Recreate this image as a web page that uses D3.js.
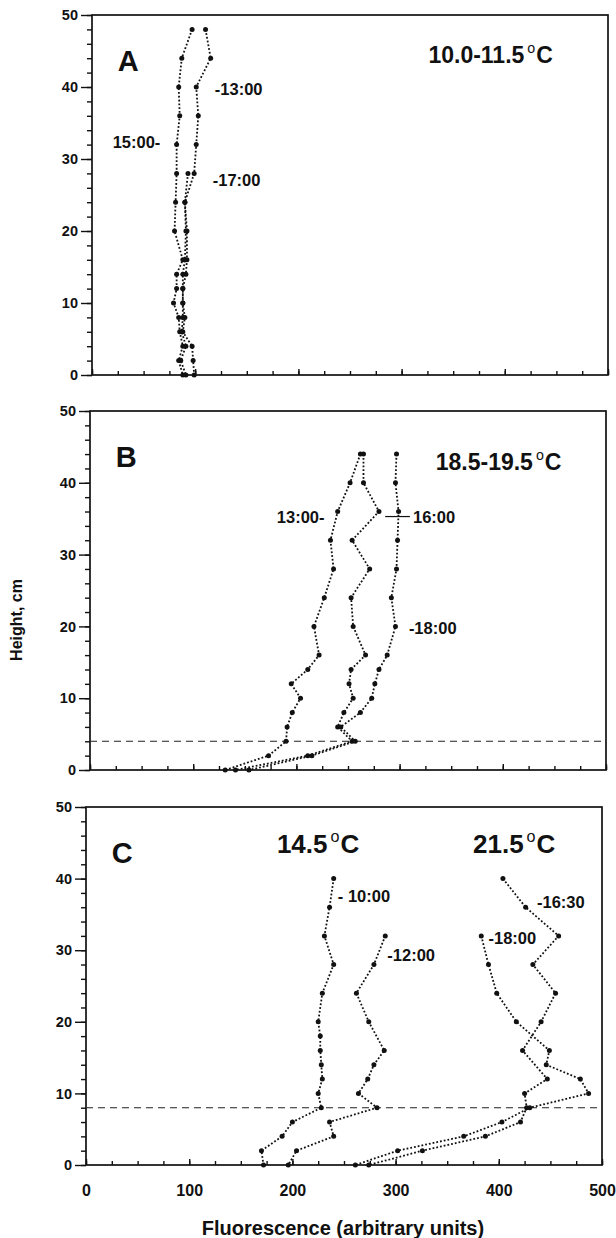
<!DOCTYPE html>
<html>
<head>
<meta charset="utf-8">
<script src="https://d3js.org/d3.v7.min.js"></script>
<style>
  body { margin: 0; background: #fff; }
  svg text { font-family: "Liberation Sans", Arial, sans-serif; fill: #111; }
</style>
</head>
<body>
<div class="chart"></div>
<script>
// ---- data (height in cm, fluorescence in arbitrary units)
const xTicks = [0, 100, 200, 300, 400, 500];
const yTicks = [0, 10, 20, 30, 40, 50];

// panel A, 10.0-11.5 C
const a1300_h = [48, 44, 40, 36, 32, 28, 24, 20, 16, 14, 12, 10, 8, 6, 4, 2, 0];
const a1300_v = [110, 115, 101, 103, 101, 99, 90, 92, 92, 91, 88, 88, 90, 88, 97, 98, 99];
const a1500_h = [48, 44, 40, 36, 32, 28, 24, 20, 16, 14, 12, 10, 8, 6, 4, 2, 0];
const a1500_v = [97, 87, 84, 85, 82, 82, 81, 80, 88, 82, 82, 79, 84, 85, 88, 84, 88];
const a1700_h = [28, 24, 20, 16, 14, 12, 10, 8, 6, 4, 2, 0];
const a1700_v = [93, 90, 91, 90, 88, 88, 88, 88, 87, 91, 86, 91];

// panel B, 18.5-19.5 C
const b1300_h = [44, 40, 36, 32, 28, 24, 20, 16, 14, 12, 10, 8, 6, 4, 2, 0];
const b1300_v = [262, 252, 240, 233, 236, 227, 217, 222, 211, 195, 204, 196, 191, 190, 173, 131];
const b1600_h = [44, 40, 36, 32, 28, 24, 20, 16, 14, 12, 10, 8, 6, 4, 2, 0];
const b1600_v = [265, 265, 280, 254, 271, 253, 255, 267, 253, 251, 255, 246, 240, 254, 211, 141];
const b1800_h = [44, 40, 36, 32, 28, 24, 20, 16, 14, 12, 10, 8, 6, 4, 2, 0];
const b1800_v = [297, 296, 299, 298, 297, 292, 296, 288, 280, 276, 273, 262, 243, 257, 215, 154];
const bMixHeight = 4;

// panel C, 14.5 C and 21.5 C
const c1000_h = [40, 36, 32, 28, 24, 20, 18, 16, 14, 12, 10, 8, 6, 4, 2, 0];
const c1000_v = [240, 236, 231, 240, 229, 225, 227, 227, 228, 229, 225, 228, 200, 190, 170, 172];
const c1200_h = [32, 28, 24, 20, 16, 14, 12, 10, 8, 6, 4, 2, 0];
const c1200_v = [290, 279, 262, 274, 289, 279, 273, 264, 282, 236, 240, 204, 196];
const c1630_h = [40, 36, 32, 28, 24, 20, 16, 12, 10, 8, 6, 4, 2, 0];
const c1630_v = [404, 426, 458, 433, 455, 441, 423, 447, 425, 427, 421, 387, 326, 274];
const c1800_h = [32, 28, 24, 20, 16, 14, 12, 10, 8, 6, 4, 2, 0];
const c1800_v = [383, 390, 398, 417, 449, 446, 479, 487, 430, 403, 366, 302, 261];
const cMixHeight = 8;

const zip = (h, v) => h.map((d, i) => ({h: d, v: v[i]}));

const svg = d3.select(".chart").append("svg")
  .attr("width", 616).attr("height", 1238);

// panel frames (the scan is a little skewed, so each panel keeps its own left edge)
const panels = [
  {name: "A", top: 15, bottom: 375, left: 92, right: 608,
   series: [zip(a1300_h, a1300_v), zip(a1500_h, a1500_v), zip(a1700_h, a1700_v)]},
  {name: "B", top: 411, bottom: 770, left: 90, right: 606, mix: bMixHeight,
   series: [zip(b1300_h, b1300_v), zip(b1600_h, b1600_v), zip(b1800_h, b1800_v)]},
  {name: "C", top: 807, bottom: 1165, left: 86, right: 602, mix: cMixHeight, xLabels: true,
   series: [zip(c1000_h, c1000_v), zip(c1200_h, c1200_v), zip(c1630_h, c1630_v), zip(c1800_h, c1800_v)]}
];

panels.forEach(function(p) {
  const x = d3.scaleLinear().domain([0, 500]).range([p.left, p.right]);
  const y = d3.scaleLinear().domain([0, 50]).range([p.bottom, p.top]);
  p.x = x; p.y = y;
  const g = svg.append("g");

  // y minor ticks every 2 cm
  g.append("g").attr("transform", `translate(${p.left},0)`)
    .call(d3.axisLeft(y).tickValues(d3.range(0, 51, 2)).tickSize(5).tickFormat(""))
    .call(s => s.select(".domain").remove());
  g.append("g").attr("transform", `translate(${p.left},0)`)
    .call(d3.axisLeft(y).tickValues(yTicks).tickSize(11).tickPadding(3))
    .call(s => s.select(".domain").remove())
    .call(s => s.selectAll("text").attr("font-size", 14.5).attr("font-weight", "bold")
      .attr("font-family", null));

  // x ticks point into the plot
  g.append("g").attr("transform", `translate(0,${p.bottom})`)
    .call(d3.axisBottom(x).tickValues(d3.range(0, 501, 25)).tickSize(-4).tickFormat(""))
    .call(s => s.select(".domain").remove());
  g.append("g").attr("transform", `translate(0,${p.bottom})`)
    .call(d3.axisBottom(x).tickValues(xTicks).tickSize(-6).tickPadding(20)
      .tickFormat(p.xLabels ? d3.format("d") : ""))
    .call(s => s.select(".domain").remove())
    .call(s => s.selectAll("text").attr("font-size", 16).attr("font-weight", "bold")
      .attr("font-family", null));

  g.selectAll(".tick line").attr("stroke", "#111").attr("stroke-width", 1.4);

  g.append("rect")
    .attr("x", p.left).attr("y", p.top)
    .attr("width", p.right - p.left).attr("height", p.bottom - p.top)
    .attr("fill", "none").attr("stroke", "#111").attr("stroke-width", 1.7);

  if (p.mix !== undefined) {
    g.append("line")
      .attr("x1", p.left).attr("x2", p.right)
      .attr("y1", y(p.mix)).attr("y2", y(p.mix))
      .attr("stroke", "#222").attr("stroke-width", 1.1)
      .attr("stroke-dasharray", "7,5");
  }

  const line = d3.line().x(d => x(d.v)).y(d => y(d.h));
  p.series.forEach(function(s) {
    g.append("path").datum(s)
      .attr("d", line)
      .attr("fill", "none").attr("stroke", "#111")
      .attr("stroke-width", 1.8).attr("stroke-dasharray", "1.8,2");
    g.selectAll(null).data(s).enter().append("circle")
      .attr("cx", d => x(d.v)).attr("cy", d => y(d.h))
      .attr("r", 2.5).attr("fill", "#111");
  });

  g.append("text").attr("x", x(25)).attr("y", y(42.2))
    .attr("font-size", 29).attr("font-weight", "bold").text(p.name);
});

// annotations placed in data units of each panel
function label(p, txt, v, h, size, anchor) {
  svg.append("text").attr("x", p.x(v)).attr("y", p.y(h))
    .attr("font-size", size).attr("text-anchor", anchor || "start")
    .attr("font-weight", "bold").text(txt);
}
function tempLabel(p, txt, v, h, size) {
  const t = svg.append("text").attr("x", p.x(v)).attr("y", p.y(h))
    .attr("font-size", size).attr("font-weight", "bold");
  t.append("tspan").text(txt);
  t.append("tspan").attr("font-size", size * 0.62).attr("font-weight", "normal")
    .attr("dx", 3).attr("dy", -size * 0.42).text("o");
  t.append("tspan").attr("dx", 1).attr("dy", size * 0.42).text("C");
}

const [pA, pB, pC] = panels;
tempLabel(pA, "10.0-11.5", 326, 43.4, 23);
label(pA, "-13:00", 119, 38.9, 16.5);
label(pA, "15:00-", 20, 31.5, 16.5);
label(pA, "-17:00", 117, 26.3, 16.5);

tempLabel(pB, "18.5-19.5", 335, 41.8, 23);
label(pB, "13:00-", 181, 34.4, 16.5);
label(pB, "16:00", 313, 34.4, 16.5);
svg.append("line")
  .attr("x1", pB.x(286)).attr("x2", pB.x(310))
  .attr("y1", pB.y(35.3)).attr("y2", pB.y(35.3))
  .attr("stroke", "#111").attr("stroke-width", 1.2);
label(pB, "-18:00", 309, 18.9, 16.5);

tempLabel(pC, "14.5", 185, 43.6, 26);
tempLabel(pC, "21.5", 375, 43.6, 26);
label(pC, "- 10:00", 244, 36.8, 16.5);
label(pC, "-12:00", 292, 28.5, 16.5);
label(pC, "-16:30", 437, 35.9, 16.5);
label(pC, "-18:00", 390, 30.9, 16.5);

// axis titles
svg.append("text")
  .attr("transform", "translate(22,620) rotate(-90)")
  .attr("text-anchor", "middle").attr("font-size", 16).attr("font-weight", "bold")
  .text("Height, cm");
svg.append("text")
  .attr("x", 343).attr("y", 1235)
  .attr("text-anchor", "middle").attr("font-size", 20).attr("font-weight", "bold")
  .text("Fluorescence (arbitrary units)");
</script>
</body>
</html>
